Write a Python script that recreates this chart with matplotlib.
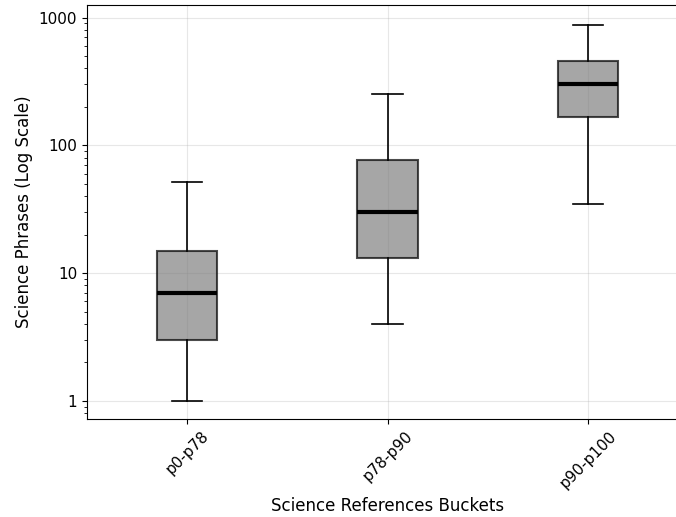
import numpy as np
import matplotlib.pyplot as plt
from matplotlib.ticker import ScalarFormatter

buckets = ['p0-p78', 'p78-p90', 'p90-p100']
whislo = [1, 4, 35]
q1 = [3, 13, 167]
med = [7, 30, 300]
q3 = [15, 77, 460]
whishi = [52, 250, 880]

stats = [{'label': b, 'whislo': lo, 'q1': a, 'med': m, 'q3': c, 'whishi': hi, 'fliers': []}
         for b, lo, a, m, c, hi in zip(buckets, whislo, q1, med, q3, whishi)]

fig = plt.figure(figsize=(6.76, 5.17), dpi=100)
ax = fig.add_axes([87 / 676, 98 / 517, 601 / 676, 414 / 517])

ax.bxp(stats, widths=0.3, patch_artist=True, showfliers=False,
       boxprops=dict(facecolor='gray', edgecolor='black', alpha=0.7, linewidth=1.5),
       medianprops=dict(color='black', linewidth=3),
       whiskerprops=dict(color='black', linewidth=1.2),
       capprops=dict(color='black', linewidth=1.2))

ax.set_yscale('log')
ax.yaxis.set_major_formatter(ScalarFormatter())
ax.set_ylim(0.72, 1255)
ax.set_xlim(0.5, 3.5)
ax.grid(True, alpha=0.3)
ax.set_axisbelow(True)
plt.setp(ax.get_xticklabels(), rotation=45)
ax.tick_params(labelsize=11)
ax.set_xlabel('Science References Buckets', fontsize=12)
ax.set_ylabel('Science Phrases (Log Scale)', fontsize=12)

fig.savefig('out.png', dpi=100)
